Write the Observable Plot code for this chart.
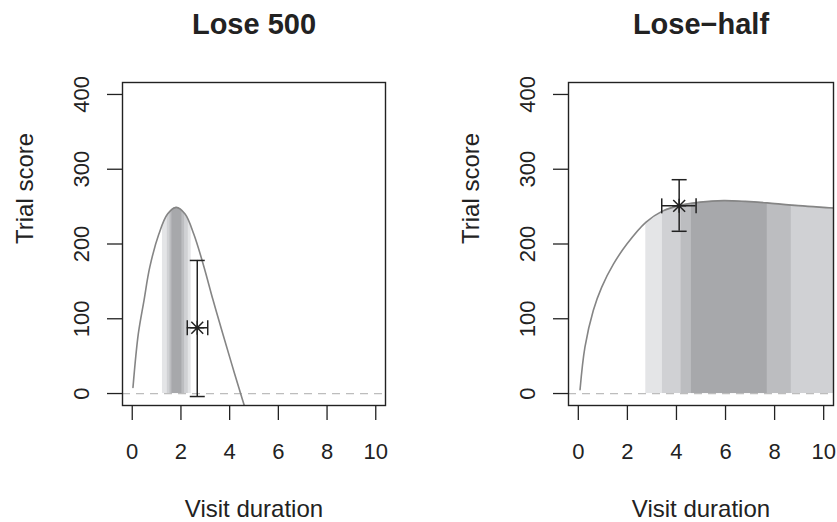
<!DOCTYPE html>
<html>
<head>
<meta charset="utf-8">
<script src="https://cdn.jsdelivr.net/npm/d3@7"></script>
<script src="https://cdn.jsdelivr.net/npm/@observablehq/plot@0.6"></script>
<style>
  html, body { margin: 0; padding: 0; background: #fff; }
  #wrap { position: relative; width: 837px; height: 522px; overflow: hidden; }
  #wrap svg { position: absolute; top: 0; }
</style>
</head>
<body>
<div id="wrap"></div>
<script>
// ---- data ----
const xTicks = [0, 2, 4, 6, 8, 10];
const yTicks = [0, 100, 200, 300, 400];

const titles = ["Lose 500", "Lose\u2212half"];
const xLabel = "Visit duration";
const yLabel = "Trial score";

// expected-score curves
const lose500X = [0.03, 0.25, 0.48, 0.72, 1.09, 1.45, 1.81, 2.17, 2.53, 2.94, 3.31, 3.70, 4.08, 4.45, 4.62];
const lose500Y = [8, 80, 124, 169, 213, 240, 249, 240, 213, 170, 126, 82, 40, 0, -18];

const loseHalfX = [0.07, 0.27, 0.61, 0.95, 1.43, 1.98, 2.75, 3.43, 4.19, 4.97, 5.92, 6.80, 7.69, 8.68, 10.44];
const loseHalfY = [5, 62, 111, 142, 173, 200, 229, 244, 252, 256, 258, 257, 255, 252, 248];

// nested shaded intervals of visit duration (outer -> inner)
const lose500BandLo = [1.24, 1.44, 1.55, 1.63];
const lose500BandHi = [2.42, 2.30, 2.15, 2.04];
const loseHalfBandLo = [2.75, 3.43, 4.19, 4.61];
const loseHalfBandHi = [11, 11, 8.68, 7.70];
const bandFills = ["#e4e5e7", "#d0d1d4", "#bcbdc0", "#a7a8ab"];

// observed mean with error bars
const lose500Obs = {x: 2.67, y: 88, xlo: 2.26, xhi: 3.10, ylo: -4, yhi: 178};
const loseHalfObs = {x: 4.11, y: 251, xlo: 3.40, xhi: 4.80, ylo: 217, yhi: 286};

// ---- drawing ----
const xDomain = [-0.4, 10.4];
const yDomain = [-16, 416];
const ink = "#222";

const hcap = {draw(ctx, size) { const r = Math.sqrt(size / Math.PI); ctx.moveTo(-r, 0); ctx.lineTo(r, 0); }};
const vcap = {draw(ctx, size) { const r = Math.sqrt(size / Math.PI); ctx.moveTo(0, -r); ctx.lineTo(0, r); }};
const star = {draw(ctx, size) {
  const r = Math.sqrt(size / Math.PI), d = r * 0.85;
  ctx.moveTo(-r, 0); ctx.lineTo(r, 0); ctx.moveTo(0, -r); ctx.lineTo(0, r);
  ctx.moveTo(-d, -d); ctx.lineTo(d, d); ctx.moveTo(-d, d); ctx.lineTo(d, -d);
}};

function panel(title, xs, ys, lo, hi, obs, left, width, marginRight) {
  const curve = xs.map((x, i) => ({x, y: ys[i]}));
  const bands = lo.map((l, i) => ({lo: l, hi: hi[i], fill: bandFills[i]}));
  const capStyle = {fill: "none", stroke: ink, strokeWidth: 1.5, r: 7.5};
  const svg = Plot.plot({
    width, height: 522,
    marginTop: 82, marginBottom: 117, marginLeft: 122, marginRight,
    x: {domain: xDomain, label: null},
    y: {domain: yDomain, label: null},
    style: {fontFamily: "'Liberation Sans', Arial, sans-serif", background: "transparent", overflow: "visible", color: ink},
    marks: [
      ...bands.map(b => Plot.rect([b], {x1: "lo", x2: "hi", y1: 0, y2: yDomain[1], fill: b.fill, clip: true})),
      Plot.areaY(curve, {x: "x", y1: "y", y2: yDomain[1], fill: "white", curve: "catmull-rom", clip: true}),
      Plot.ruleY([0], {stroke: "#bdbdbd", strokeWidth: 1.3, strokeDasharray: "8,6"}),
      Plot.line(curve, {x: "x", y: "y", stroke: "#858585", strokeWidth: 1.6, curve: "catmull-rom", clip: true}),
      Plot.ruleX([obs], {x: "x", y1: "ylo", y2: "yhi", stroke: ink, strokeWidth: 1.5}),
      Plot.ruleY([obs], {y: "y", x1: "xlo", x2: "xhi", stroke: ink, strokeWidth: 1.5}),
      Plot.dot([obs], {x: "x", y: "ylo", symbol: hcap, ...capStyle}),
      Plot.dot([obs], {x: "x", y: "yhi", symbol: hcap, ...capStyle}),
      Plot.dot([obs], {x: "xlo", y: "y", symbol: vcap, ...capStyle}),
      Plot.dot([obs], {x: "xhi", y: "y", symbol: vcap, ...capStyle}),
      Plot.dot([obs], {x: "x", y: "y", symbol: star, r: 7, fill: "none", stroke: ink, strokeWidth: 1.5}),
      Plot.frame({stroke: ink, strokeWidth: 1.4}),
      Plot.axisX({ticks: xTicks, tickSize: 15, tickPadding: 23, fontSize: 22, label: null, stroke: ink, strokeWidth: 1.3, fill: ink}),
      Plot.axisY({ticks: yTicks, tickSize: 15, tickPadding: 19, tickRotate: -90, fontSize: 22, label: null, stroke: ink, strokeWidth: 1.3, fill: ink}),
      Plot.text([title], {text: d => d, frameAnchor: "top", dy: -49, lineAnchor: "bottom", fontSize: 29, fontWeight: "bold", fill: ink}),
      Plot.text([xLabel], {text: d => d, frameAnchor: "bottom", dy: 111, lineAnchor: "bottom", fontSize: 24, fill: ink}),
      Plot.text([yLabel], {text: d => d, frameAnchor: "left", dx: -90, rotate: -90, lineAnchor: "bottom", fontSize: 24, fill: ink})
    ]
  });
  svg.style.left = left + "px";
  document.getElementById("wrap").appendChild(svg);
}

panel(titles[0], lose500X, lose500Y, lose500BandLo, lose500BandHi, lose500Obs, 0, 418, 33);
panel(titles[1], loseHalfX, loseHalfY, loseHalfBandLo, loseHalfBandHi, loseHalfObs, 446, 391, 4);
</script>
</body>
</html>
